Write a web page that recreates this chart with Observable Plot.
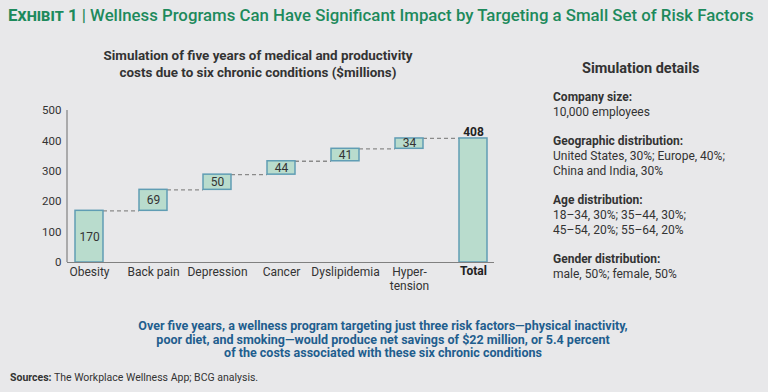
<!DOCTYPE html>
<html><head><meta charset="utf-8">
<script src="https://cdn.jsdelivr.net/npm/d3@7"></script>
<script src="https://cdn.jsdelivr.net/npm/@observablehq/plot@0.6"></script>
<style>
html,body{margin:0;padding:0;background:#e8e8ea;}
#wrap{position:relative;width:768px;height:392px;background:#e8e8ea;font-family:Roboto,"Noto Sans",sans-serif;color:#333;overflow:hidden;}
.abs{position:absolute;white-space:nowrap;}
#hdr{left:8px;top:5px;font-size:16.8px;font-weight:500;color:#1d8a5c;}
#hdr .ex{font-variant:small-caps;font-weight:700;}
#sub{left:58px;top:47px;width:400px;text-align:center;font-size:13.4px;font-weight:700;line-height:17px;color:#333;}
#det{left:553px;top:61px;font-size:12px;line-height:15px;color:#333;}
#det .h{font-weight:700;}
#det .t{font-size:14.5px;font-weight:700;margin-left:29px;margin-bottom:14px;}
#det .g{margin-bottom:14px;}
#note{left:83px;top:319px;width:600px;text-align:center;font-size:12.5px;font-weight:700;line-height:13.5px;color:#1f5e8e;white-space:normal;}
#src{left:10px;top:371px;font-size:10.5px;color:#333;}
#chart{left:0;top:90px;}
</style></head>
<body><div id="wrap">
<div class="abs" id="hdr"><span class="ex">Exhibit 1</span> | Wellness Programs Can Have Significant Impact by Targeting a Small Set of Risk Factors</div>
<div class="abs" id="sub">Simulation of five years of medical and productivity<br>costs due to six chronic conditions ($millions)</div>
<div class="abs" id="det"></div>
<div class="abs" id="note">Over five years, a wellness program targeting just three risk factors—physical inactivity,<br>poor diet, and smoking—would produce net savings of $22 million, or 5.4 percent<br>of the costs associated with these six chronic conditions</div>
<div class="abs" id="src"><b>Sources:</b> The Workplace Wellness App; BCG analysis.</div>
<div class="abs" id="chart"></div>
</div>
<script>
const categories = ["Obesity", "Back pain", "Depression", "Cancer", "Dyslipidemia", "Hyper-\ntension", "Total"];
const values = [170, 69, 50, 44, 41, 34, 408];
const yTicks = [0, 100, 200, 300, 400, 500];
const detailHeads = ["Company size:", "Geographic distribution:", "Age distribution:", "Gender distribution:"];
const detailLines = [
  ["10,000 employees"],
  ["United States, 30%; Europe, 40%;", "China and India, 30%"],
  ["18–34, 30%; 35–44, 30%;", "45–54, 20%; 55–64, 20%"],
  ["male, 50%; female, 50%"]
];

// details panel
const det = document.getElementById("det");
let html = '<div class="t">Simulation details</div>';
detailHeads.forEach((h, i) => {
  html += '<div class="g"><div class="h">' + h + '</div>' + detailLines[i].map(l => '<div>' + l + '</div>').join("") + '</div>';
});
det.innerHTML = html;

// waterfall table
let acc = 0;
const rows = categories.map((c, i) => {
  const isTotal = c === "Total";
  const y1 = isTotal ? 0 : acc;
  const y2 = isTotal ? values[i] : acc + values[i];
  if (!isTotal) acc += values[i];
  return {c, v: values[i], y1, y2, isTotal};
});
const links = rows.slice(0, -1).map((r, i) => ({a: r.c, b: rows[i + 1].c, y: r.y2}));

const W = 520, ML = 67, MR = 26;
const pIn = 0.5625, pOut = 0.117;
const step = (W - ML - MR) / (categories.length - pIn + 2 * pOut);
const bw = step * (1 - pIn);

const chart = Plot.plot({
  width: W, height: 212,
  marginLeft: ML, marginRight: MR, marginTop: 20, marginBottom: 40,
  style: {fontFamily: "Roboto, 'Noto Sans', sans-serif", fontSize: "11.5px", color: "#333", background: "transparent", overflow: "visible"},
  x: {domain: categories, paddingInner: pIn, paddingOuter: pOut, axis: null},
  y: {domain: [0, 500], ticks: yTicks, tickSize: 0, tickPadding: 6, label: null},
  marks: [
    Plot.ruleY(links, {y: "y", x1: "a", x2: "b", insetLeft: bw, insetRight: bw, stroke: "#8a8a8a", strokeWidth: 1.3, strokeDasharray: "4,3"}),
    Plot.barY(rows, {x: "c", y1: "y1", y2: "y2", fill: "#b9dccd", stroke: "#609db4", strokeWidth: 1.5}),
    Plot.text(rows.filter(d => !d.isTotal), {x: "c", y: d => (d.y1 + d.y2) / 2, text: d => String(d.v), fontSize: 12, fill: "#333"}),
    Plot.text(rows.filter(d => d.isTotal), {x: "c", y: "y2", text: d => String(d.v), dy: -6, fontSize: 12, fontWeight: "bold", fill: "#222"}),
    Plot.ruleY([0], {stroke: "#808080", strokeWidth: 1.2}),
    (index, scales, values, dim) => {
      const l = d3.create("svg:line")
        .attr("x1", dim.marginLeft).attr("x2", dim.marginLeft)
        .attr("y1", dim.marginTop).attr("y2", dim.height - dim.marginBottom)
        .attr("stroke", "#808080").attr("stroke-width", 1.2);
      return l.node();
    },
    Plot.text(rows.filter(d => !d.isTotal), {x: "c", y: 0, text: "c", lineAnchor: "top", dy: 4, fontSize: 12, fill: "#333", lineHeight: 1.15}),
    Plot.text(rows.filter(d => d.isTotal), {x: "c", y: 0, text: "c", lineAnchor: "top", dy: 4, fontSize: 12, fontWeight: "bold", fill: "#222"})
  ]
});
document.getElementById("chart").appendChild(chart);
</script>
</body></html>
